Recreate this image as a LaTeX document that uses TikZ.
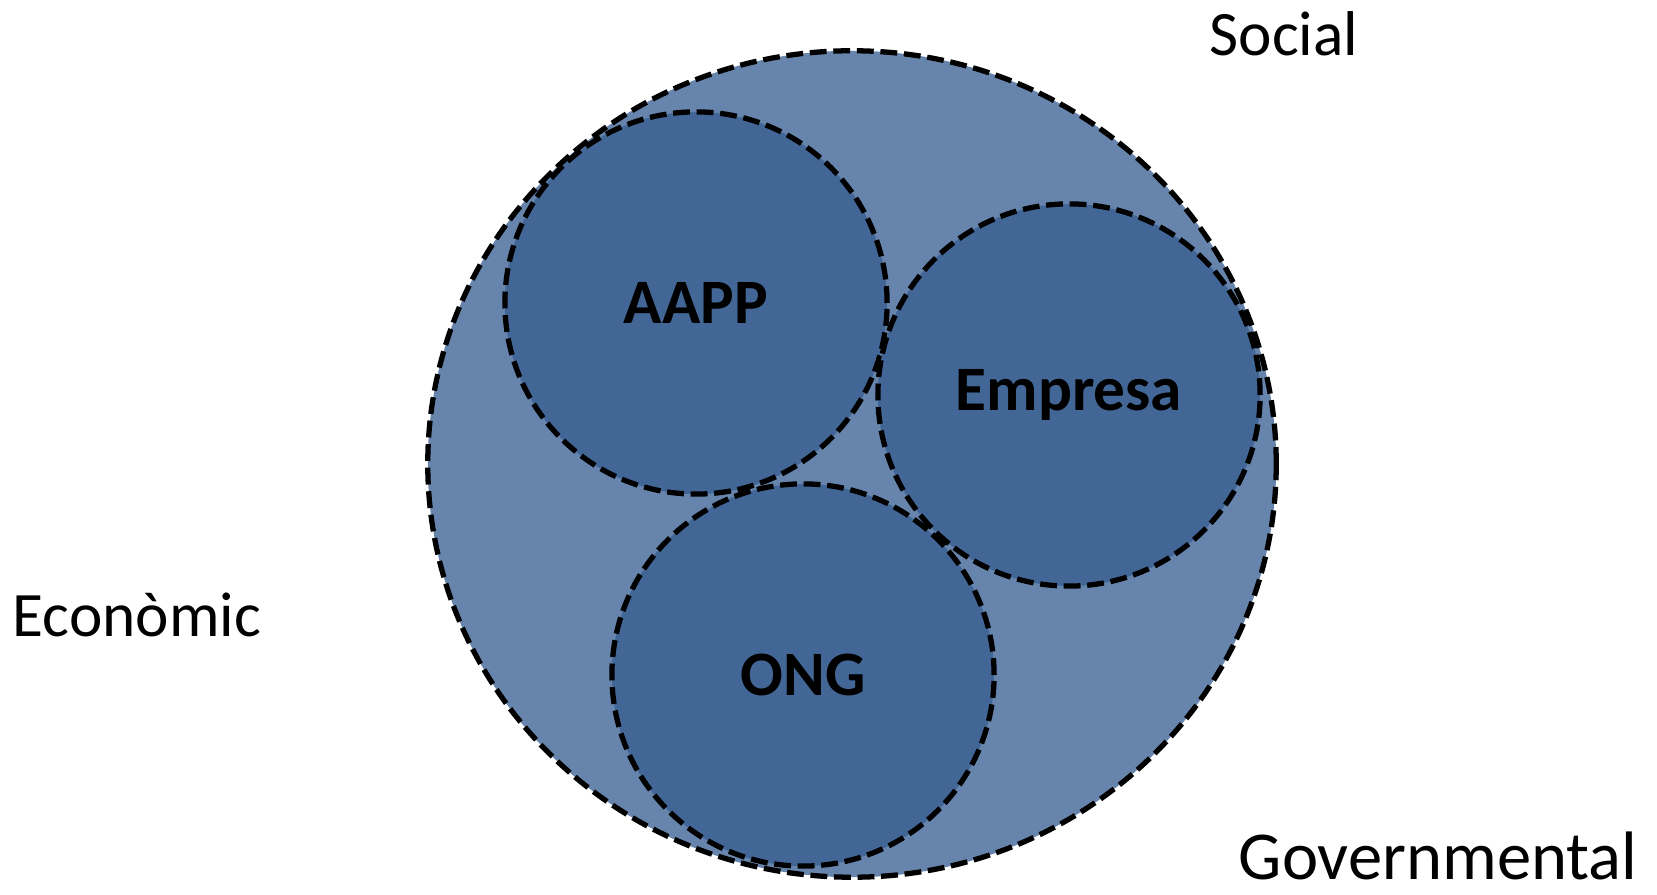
\documentclass[tikz,border=0pt]{standalone}
\usepackage{fontspec}
\setmainfont{Carlito}
\usetikzlibrary{positioning, shapes.geometric}
\definecolor{colorOuter}{RGB}{103,133,172}
\definecolor{colorInner}{RGB}{66,103,151}
\tikzstyle{dashedLine} =[draw=black, line width=1.5pt, dash pattern=on 4.8pt off 1.9pt]
\tikzstyle{orgCircle} =[dashedLine, circle, fill=colorInner, minimum size=3.82cm, inner sep=0pt, font=\fontsize{18}{22}\selectfont\bfseries]
\tikzstyle{sectorLabel} =[font=\fontsize{18}{22}\selectfont]
\begin{document}
\begin{tikzpicture}[x=0.01cm, y=-0.01cm]
\useasboundingbox (0,0) rectangle (1657,895);

\node (sector) [dashedLine, ellipse, fill=colorOuter, minimum width=8.48cm, minimum height=8.26cm, inner sep=0pt] at (852,464) {};

\node (aapp) [orgCircle] at (696,303) {AAPP};
\node (empresa) [orgCircle] at (1069,395) {Empresa};
\node (ong) [orgCircle] at (803,675) {ONG};

\node (social) [sectorLabel] at (1284,34) {Social};
\node (economic) [sectorLabel] at (137,615) {Econòmic};
\node (govern) [sectorLabel, font=\fontsize{19.5}{23}\selectfont, anchor=base, inner sep=0pt] at (1438,880) {Governmental};
\end{tikzpicture}
\end{document}
